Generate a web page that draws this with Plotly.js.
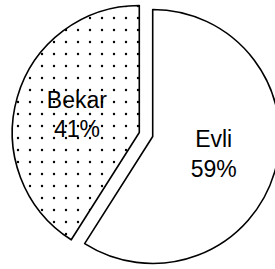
<!DOCTYPE html>
<html>
<head>
<meta charset="utf-8">
<script src="https://cdn.plot.ly/plotly-3.0.1.min.js"></script>
<style>
html,body{margin:0;padding:0;overflow:hidden;background:#fff;width:275px;height:269px;}
#chart{width:290px;height:269px;}
</style>
</head>
<body>
<div id="chart"></div>
<script>
var labels = ["Evli", "Bekar"];
var values = [59, 41];

var trace = {
  type: "pie",
  labels: labels,
  values: values,
  sort: false,
  direction: "clockwise",
  rotation: 0,
  pull: [0.055, 0.055],
  texttemplate: "%{label}<br>%{value}%",
  textposition: "inside",
  insidetextorientation: "horizontal",
  textfont: {family: "Liberation Sans, Arial, sans-serif", size: 23, color: "#000"},
  hoverinfo: "none",
  marker: {
    colors: ["#ffffff", "#ffffff"],
    line: {color: "#000000", width: 1.6},
    pattern: {
      shape: ["", "."],
      fgcolor: "#000000",
      bgcolor: "#ffffff",
      size: 12,
      solidity: 0.03
    }
  }
};

var layout = {
  width: 290,
  height: 269,
  margin: {l: 12, r: 10, t: 0, b: 0, pad: 0},
  showlegend: false,
  paper_bgcolor: "#ffffff",
  plot_bgcolor: "#ffffff"
};

Plotly.newPlot("chart", [trace], layout, {staticPlot: true, displayModeBar: false});
</script>
</body>
</html>
